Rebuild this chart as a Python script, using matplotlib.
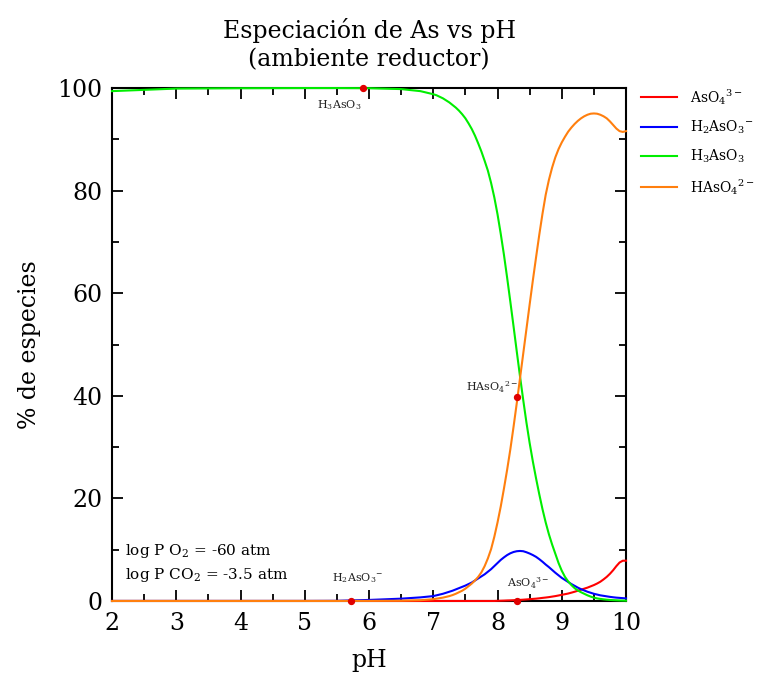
import matplotlib
matplotlib.use("Agg")
import matplotlib.pyplot as plt
from matplotlib.ticker import MultipleLocator

plt.rcParams['font.family'] = ['DejaVu Serif']
plt.rcParams['mathtext.fontset'] = 'dejavuserif'

ph = [2.0, 3.0, 4.0, 5.0, 5.5, 6.0, 6.5, 6.8,
      7.00, 7.05, 7.10, 7.15, 7.20, 7.25, 7.30, 7.35, 7.40, 7.45,
      7.50, 7.55, 7.60, 7.65, 7.70, 7.75, 7.80, 7.85, 7.90, 7.95,
      8.00, 8.05, 8.10, 8.15, 8.20, 8.25, 8.30, 8.35, 8.40, 8.45,
      8.50, 8.55, 8.60, 8.65, 8.70, 8.75, 8.80, 8.85, 8.90, 8.95,
      9.00, 9.05, 9.10, 9.15, 9.20, 9.25, 9.30, 9.35, 9.40, 9.45,
      9.50, 9.55, 9.60, 9.65, 9.70, 9.75, 9.80, 9.85, 9.90, 9.95,
      10.0]

aso4 = [0, 0, 0, 0, 0, 0, 0, 0,
        0, 0, 0, 0, 0, 0, 0, 0, 0, 0,
        0, 0, 0, 0, 0, 0, 0, 0, 0, 0,
        0.03, 0.05, 0.07, 0.1, 0.12, 0.15, 0.18, 0.21, 0.25, 0.3,
        0.35, 0.4, 0.45, 0.52, 0.6, 0.67, 0.75, 0.85, 0.95, 1.07,
        1.2, 1.32, 1.45, 1.62, 1.8, 2.0, 2.2, 2.4, 2.6, 2.85,
        3.1, 3.4, 3.75, 4.2, 4.7, 5.3, 6.0, 6.8, 7.5, 7.85,
        7.85]

h2aso3 = [0, 0, 0, 0, 0.02, 0.2, 0.45, 0.7,
          0.95, 1.1, 1.25, 1.4, 1.6, 1.8, 2.0, 2.25, 2.5, 2.75,
          3.0, 3.3, 3.6, 4.0, 4.4, 4.8, 5.2, 5.7, 6.2, 6.8,
          7.4, 8.0, 8.5, 8.95, 9.3, 9.55, 9.7, 9.75, 9.7, 9.5,
          9.25, 8.95, 8.6, 8.15, 7.65, 7.1, 6.6, 6.05, 5.5, 5.0,
          4.5, 4.1, 3.7, 3.3, 2.95, 2.6, 2.3, 2.05, 1.8, 1.6,
          1.4, 1.25, 1.1, 1.0, 0.9, 0.8, 0.72, 0.65, 0.6, 0.55,
          0.5]

h3aso3 = [99.4, 99.9, 99.97, 100, 100, 99.97, 99.8, 99.4,
          98.8, 98.6, 98.3, 98.0, 97.6, 97.2, 96.7, 96.2, 95.6, 94.9,
          94.1, 93.1, 92.0, 90.7, 89.2, 87.6, 85.8, 83.9, 81.5, 78.7,
          75.4, 71.6, 67.5, 63.0, 58.3, 53.5, 48.6, 43.8, 39.2, 34.8,
          30.8, 27.2, 23.9, 20.8, 17.9, 15.3, 13.0, 11.0, 9.2, 7.4,
          5.9, 4.7, 3.8, 3.1, 2.5, 2.05, 1.7, 1.4, 1.1, 0.85,
          0.65, 0.5, 0.4, 0.32, 0.25, 0.2, 0.16, 0.13, 0.1, 0.08,
          0.06]

haso4 = [0, 0, 0, 0, 0, 0.02, 0.05, 0.15,
         0.35, 0.45, 0.55, 0.65, 0.8, 0.95, 1.15, 1.4, 1.7, 2.0,
         2.4, 2.9, 3.4, 4.0, 4.7, 5.6, 6.8, 8.3, 10.1, 12.5,
         15.3, 18.4, 21.9, 25.6, 29.6, 34.0, 38.6, 43.4, 48.2, 53.0,
         57.8, 62.5, 67.0, 71.4, 75.5, 79.2, 82.1, 84.5, 86.5, 88.1,
         89.4, 90.5, 91.5, 92.3, 93.0, 93.6, 94.1, 94.5, 94.8, 95.0,
         95.05, 95.0, 94.8, 94.5, 94.1, 93.5, 92.8, 92.1, 91.6, 91.45,
         91.6]

series_names = [r'AsO$_4$$^{3-}$', r'H$_2$AsO$_3$$^{-}$', r'H$_3$AsO$_3$', r'HAsO$_4$$^{2-}$']
series_colors = ['#ff0000', '#0000ff', '#00ee00', '#ff7f0e']

marker_ph = [5.90, 5.72, 8.31, 8.31]
marker_val = [100, 0, 39.8, 0]
marker_labels = [r'H$_3$AsO$_3$', r'H$_2$AsO$_3$$^{-}$', r'HAsO$_4$$^{2-}$', r'AsO$_4$$^{3-}$']

xticks = [2, 3, 4, 5, 6, 7, 8, 9, 10]
yticks = [0, 20, 40, 60, 80, 100]

fig = plt.figure(figsize=(7.6, 6.88), dpi=100)
ax = fig.add_axes([0.1474, 0.1265, 0.6763, 0.7455])

for vals, name, col in zip([aso4, h2aso3, h3aso3, haso4], series_names, series_colors):
    ax.plot(ph, vals, color=col, lw=1.5, label=name, zorder=3, clip_on=False)

ax.scatter(marker_ph, marker_val, s=18, color='#e00000', zorder=5, clip_on=False)

offsets = [(-23, -17, 'center', 'center'), (6, 23, 'center', 'center'),
           (1, 10, 'right', 'center'), (11, 18, 'center', 'center')]
for x, y, lab, (dx, dy, ha, va) in zip(marker_ph, marker_val, marker_labels, offsets):
    ax.annotate(lab, (x, y), xytext=(dx, dy), textcoords='offset pixels',
                ha=ha, va=va, fontsize=8, color='#222222')

ax.text(0.025, 0.098, r'log P O$_2$ = -60 atm', transform=ax.transAxes, fontsize=11,
        ha='left', va='center')
ax.text(0.025, 0.050, r'log P CO$_2$ = -3.5 atm', transform=ax.transAxes, fontsize=11,
        ha='left', va='center')

ax.set_xlim(2, 10)
ax.set_ylim(0, 100)
ax.set_xticks(xticks)
ax.set_yticks(yticks)
ax.xaxis.set_minor_locator(MultipleLocator(0.5))
ax.yaxis.set_minor_locator(MultipleLocator(10))
ax.tick_params(which='both', direction='in', top=True, right=True, width=1.3, labelsize=17)
ax.tick_params(which='major', length=8)
ax.tick_params(which='minor', length=5)
ax.tick_params(axis='x', pad=8)
ax.tick_params(axis='y', pad=7)
for s in ax.spines.values():
    s.set_linewidth(1.5)

ax.set_xlabel('pH', fontsize=17, labelpad=10)
ax.set_ylabel('% de especies', fontsize=17, labelpad=12)
ax.set_title('Especiación de As vs pH\n(ambiente reductor)', fontsize=17, pad=16, linespacing=1.25)

ax.legend(loc='upper left', bbox_to_anchor=(1.029, 1.002), frameon=False, fontsize=10,
          handlelength=2.6, handletextpad=0.95, labelspacing=0.85,
          borderaxespad=0, borderpad=0)

fig.savefig('out.png', dpi=100)
